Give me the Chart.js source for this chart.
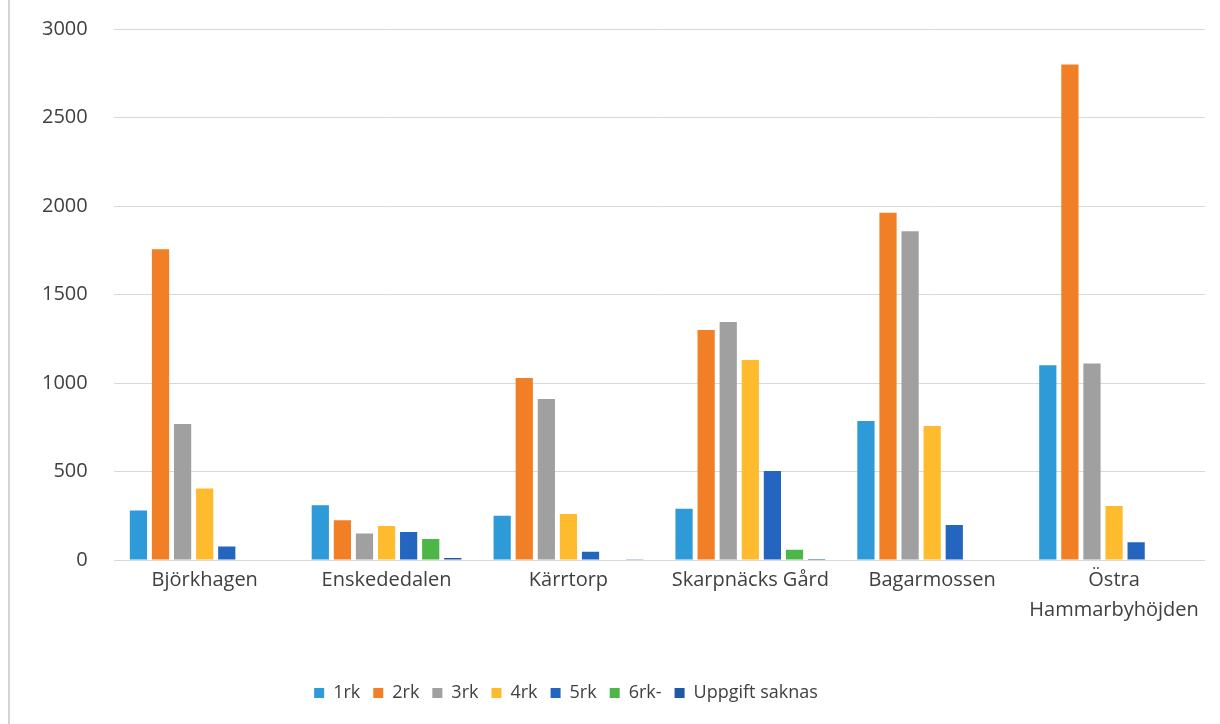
<!DOCTYPE html>
<html>
<head>
<meta charset="utf-8">
<script src="https://cdn.jsdelivr.net/npm/chart.js@4"></script>
<style>
  body { margin: 0; background: #fff; }
  #ram { position: relative; width: 1220px; height: 724px; }
  #kant { position: absolute; left: 8px; top: 0; width: 2px; height: 724px; background: #d6d3d0; }
</style>
</head>
<body>
<div id="ram">
  <div id="kant"></div>
  <canvas id="myChart" width="1220" height="724"></canvas>
</div>
<script>
// Data läst ur diagrammet
const omraden = ['Björkhagen', 'Enskededalen', 'Kärrtorp', 'Skarpnäcks Gård', 'Bagarmossen', ['Östra', 'Hammarbyhöjden']];
const rk1 = [280, 310, 250, 290, 785, 1100];
const rk2 = [1755, 225, 1028, 1300, 1962, 2800];
const rk3 = [768, 150, 910, 1345, 1858, 1110];
const rk4 = [404, 192, 260, 1130, 757, 305];
const rk5 = [76, 158, 46, 503, 198, 100];
const rk6 = [0, 118, 0, 58, 0, 0];
const uppgiftSaknas = [0, 12, 4, 6, 0, 0];
const yTicks = [0, 500, 1000, 1500, 2000, 2500, 3000];

const serier = [
    { label: '1rk', data: rk1, color: '#2E9AD8' },
    { label: '2rk', data: rk2, color: '#F07F26' },
    { label: '3rk', data: rk3, color: '#A0A0A0' },
    { label: '4rk', data: rk4, color: '#FDBB2D' },
    { label: '5rk', data: rk5, color: '#2466BF' },
    { label: '6rk-', data: rk6, color: '#4CB748' },
    { label: 'Uppgift saknas', data: uppgiftSaknas, color: '#1F58A4' }
];

// Flytta förklaringen lite åt vänster, som i originalet
const legendFlytt = {
    id: 'legendFlytt',
    afterLayout(chart) {
        const lg = chart.legend;
        const skift = 566 - (lg.left + lg.right) / 2;
        lg.left += skift;
        lg.right += skift;
    }
};

function grafikOlustur() {
    const ctx = document.getElementById('myChart').getContext('2d');
    const textFarg = '#404040';
    const typsnitt = "'Open Sans', sans-serif";

    return new Chart(ctx, {
        type: 'bar',
        data: {
            labels: omraden,
            datasets: serier.map(s => ({
                label: s.label,
                data: s.data,
                backgroundColor: s.color,
                borderWidth: 0,
                categoryPercentage: 0.85,
                barPercentage: 0.78
            }))
        },
        options: {
            responsive: false,
            animation: false,
            layout: { padding: { left: 16, right: 15, top: 29, bottom: 12 } },
            plugins: {
                tooltip: { enabled: false },
                legend: {
                    position: 'bottom',
                    labels: {
                        boxWidth: 10,
                        boxHeight: 10,
                        padding: 13,
                        color: textFarg,
                        font: { family: typsnitt, size: 18 }
                    }
                }
            },
            scales: {
                x: {
                    grid: { display: false },
                    border: { display: false },
                    afterFit: axis => { axis.height = 111; },
                    ticks: {
                        color: textFarg,
                        padding: -3,
                        maxRotation: 0,
                        autoSkip: false,
                        font: { family: typsnitt, size: 20, lineHeight: 1.5 }
                    }
                },
                y: {
                    min: 0,
                    max: 3000,
                    afterBuildTicks: axis => { axis.ticks = yTicks.map(v => ({ value: v })); },
                    afterFit: axis => { axis.paddingTop = 0; axis.paddingBottom = 0; },
                    grid: { color: '#d9d9d9', lineWidth: 1, drawTicks: false },
                    border: { display: false },
                    ticks: {
                        color: textFarg,
                        padding: 26,
                        callback: v => String(v),
                        font: { family: typsnitt, size: 20 }
                    }
                }
            }
        },
        plugins: [legendFlytt]
    });
}

const myChart = grafikOlustur();
</script>
</body>
</html>
